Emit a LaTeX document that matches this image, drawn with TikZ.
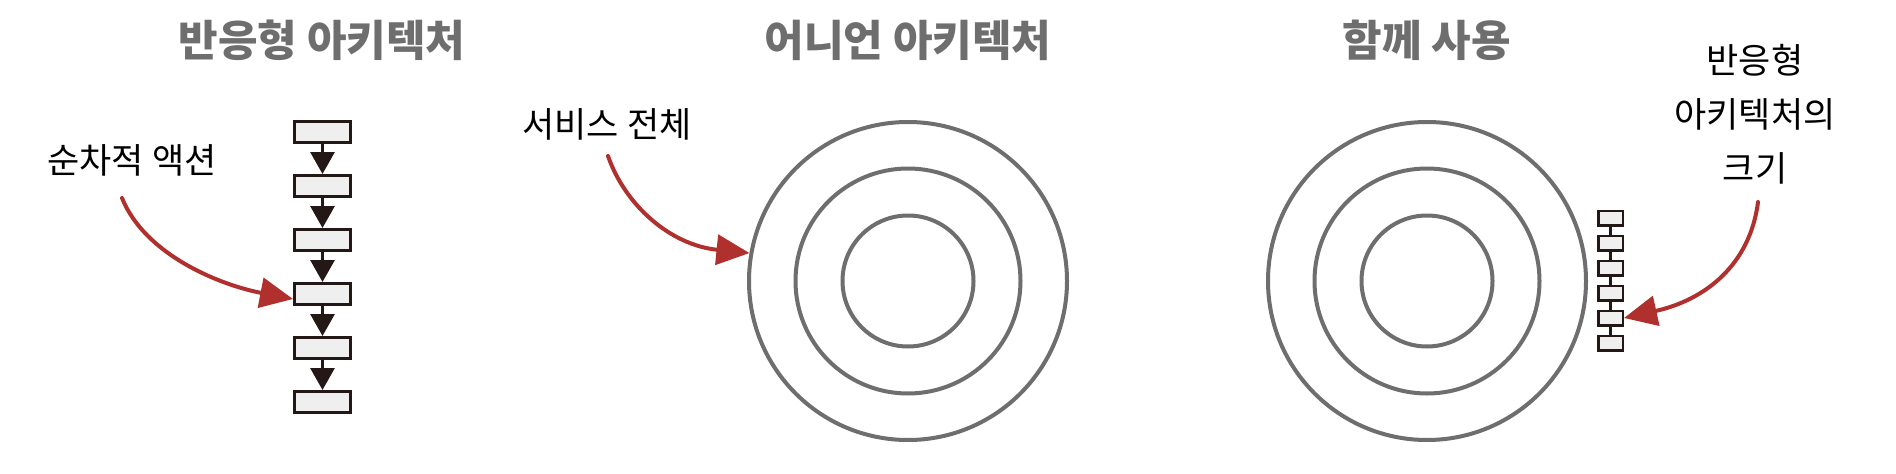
\documentclass[tikz,border=0pt]{standalone}
\usepackage{fontspec}
\newfontfamily\kr{Noto Sans CJK KR}
\usetikzlibrary{arrows.meta}
\definecolor{titlegray}{HTML}{6E6E6E}
\definecolor{ringgray}{HTML}{6E6E6E}
\definecolor{boxline}{HTML}{231815}
\definecolor{boxfill}{HTML}{EFEFEF}
\definecolor{accent}{HTML}{B0302E}
\begin{document}
\begin{tikzpicture}[x=1pt,y=-1pt,
  titletext/.style={font=\kr\bfseries\fontsize{43}{50}\selectfont, text=titlegray, inner sep=0},
  labeltext/.style={font=\kr\fontsize{35}{54}\selectfont, text=black, inner sep=0, align=center},
  bigbox/.style={draw=boxline, fill=boxfill, line width=3pt, minimum width=56pt, minimum height=21pt, inner sep=0},
  smallbox/.style={draw=boxline, fill=boxfill, line width=2.5pt, minimum width=24.5pt, minimum height=14.5pt, inner sep=0},
  ring/.style={draw=ringgray, line width=4pt, circle, inner sep=0},
  flowarrow/.style={draw=boxline, line width=3pt, -{Triangle[length=22pt,width=24pt]}},
  linkline/.style={draw=boxline, line width=2.5pt},
  redarrow/.style={draw=accent, line width=4pt, line cap=round, -{Triangle[length=33pt,width=30pt]}}
]
\useasboundingbox (0,0) rectangle (1896,474);
\fill[white] (0,0) rectangle (1896,474);

% titles
\node[titletext] (t1) at (322,40) {반응형 아키텍처};
\node[titletext] (t2) at (908,40) {어니언 아키텍처};
\node[titletext] (t3) at (1427,40) {함께 사용};

% left panel: sequential boxes
\foreach \i in {1,...,6} {
  \node[bigbox] (b\i) at (322.5,{132+54*(\i-1)}) {};
}
\foreach \i/\j in {1/2,2/3,3/4,4/5,5/6} {
  \draw[flowarrow] (b\i) -- (b\j);
}
\node[labeltext] (lab1) at (132,160) {순차적 액션};
\coordinate (s1) at (122,198);
\draw[redarrow] (s1) .. controls (145,255) and (220,285) .. ([yshift=-5pt]b4.west);

% middle panel: onion rings
\node[ring, minimum size=318pt] (c2o) at (908,281) {};
\node[ring, minimum size=225pt] (c2m) at (908,281) {};
\node[ring, minimum size=131pt] (c2i) at (908,281) {};
\node[labeltext] (lab2) at (607,124) {서비스 전체};
\coordinate (s2) at (608,156);
\draw[redarrow] (s2) .. controls (625,205) and (670,245) .. (c2o.170);

% right panel: rings + small reactive column
\node[ring, minimum size=318pt] (c3o) at (1427,281) {};
\node[ring, minimum size=225pt] (c3m) at (1427,281) {};
\node[ring, minimum size=131pt] (c3i) at (1427,281) {};
\foreach \i in {1,...,6} {
  \node[smallbox] (sb\i) at (1610.5,{218+25*(\i-1)}) {};
}
\foreach \i/\j in {1/2,2/3,3/4,4/5,5/6} {
  \draw[linkline] (sb\i) -- (sb\j);
}
\node[labeltext] (lab3) at (1755,114) {반응형\\아키텍처의\\크기};
\coordinate (s3) at (1758,202);
\draw[redarrow] (s3) .. controls (1750,265) and (1705,300) .. (sb5.east);
\end{tikzpicture}
\end{document}
